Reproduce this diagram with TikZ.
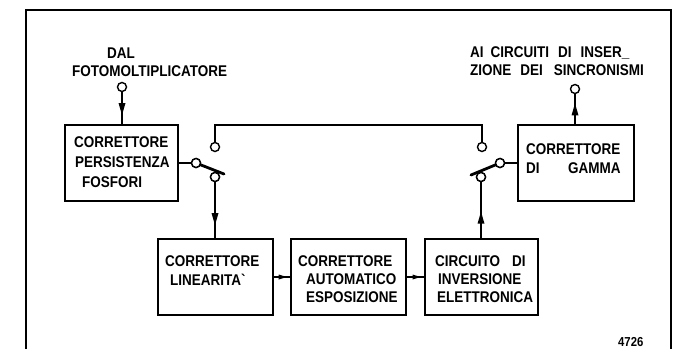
\documentclass[tikz,border=0pt]{standalone}
\usepackage{fontspec}
\setmainfont{Liberation Sans}[FakeStretch=0.87]
\usetikzlibrary{arrows.meta,decorations.markings}
\begin{document}
\begin{tikzpicture}[x=1pt,y=-1pt,
  box/.style={draw, line width=2.2pt, inner sep=0pt},
  lbl/.style={anchor=base west, inner sep=0pt, font=\fontsize{15.5}{15.5}\selectfont\bfseries},
  circ/.style={draw, circle, fill=white, line width=1.4pt, minimum size=9pt, inner sep=0pt},
  wire/.style={line width=1.4pt},
  arm/.style={line width=2.8pt},
  midarrow/.style={postaction={decorate}, decoration={markings, mark=at position #1 with {\fill (0pt,0pt) -- (-12pt,3.5pt) -- (-12pt,-3.5pt) -- cycle;}}},
  smallarrow/.style={postaction={decorate}, decoration={markings, mark=at position #1 with {\fill (0pt,0pt) -- (-8pt,2.5pt) -- (-8pt,-2.5pt) -- cycle;}}}
]
\useasboundingbox (0,0) rectangle (682,349);
% frame
\draw[line width=1.5pt] (26,349) -- (26,10) -- (671,10) -- (671,349);

% boxes
\node[box, minimum width=113pt, minimum height=76pt] (b1) at (121.5,163) {};
\node[box, minimum width=116pt, minimum height=76pt] (b5) at (576,163) {};
\node[box, minimum width=115pt, minimum height=76pt] (b2) at (215.5,277) {};
\node[box, minimum width=115pt, minimum height=76pt] (b3) at (348.5,277) {};
\node[box, minimum width=113pt, minimum height=76pt] (b4) at (481.5,277) {};

% texts
\node[lbl] (tdal) at (107,58) {DAL};
\node[lbl] (tfoto) at (72,76) {FOTOMOLTIPLICATORE};
\node[lbl] (tai) at (470,57) {AI\hspace{7pt}CIRCUITI\hspace{9pt}DI\hspace{9pt}INSER\_};
\node[lbl] (tzione) at (470,75) {ZIONE\hspace{9pt}DEI\hspace{11pt}SINCRONISMI};

\node[lbl] (b1a) at (74,147) {CORRETTORE};
\node[lbl] (b1b) at (75,167) {PERSISTENZA};
\node[lbl] (b1c) at (82,187) {FOSFORI};

\node[lbl] (b5a) at (526,154) {CORRETTORE};
\node[lbl] (b5b) at (526,173) {DI};
\node[lbl] (b5c) at (568,173) {GAMMA};

\node[lbl] (b2a) at (165,266) {CORRETTORE};
\node[lbl] (b2b) at (170,285) {LINEARITA\textasciigrave};

\node[lbl] (b3a) at (298,266) {CORRETTORE};
\node[lbl] (b3b) at (306,284) {AUTOMATICO};
\node[lbl] (b3c) at (306,302) {ESPOSIZIONE};

\node[lbl] (b4a) at (435,266) {CIRCUITO\hspace{12pt}DI};
\node[lbl] (b4b) at (438,284) {INVERSIONE};
\node[lbl] (b4c) at (437,302) {ELETTRONICA};

\node[lbl, font=\fontsize{13}{13}\selectfont\bfseries] (num) at (618,346) {4726};

% terminals
\node[circ] (in1) at (122,87) {};
\node[circ] (out) at (575,89) {};
\node[circ] (sc1) at (196,163) {};
\node[circ] (su1) at (215,147) {};
\node[circ] (sl1) at (215,177) {};
\node[circ] (sc2) at (500,163) {};
\node[circ] (su2) at (482,147) {};
\node[circ] (sl2) at (481,177) {};
\coordinate (topL) at (215,125);
\coordinate (topR) at (482,125);
\coordinate (arm1) at (224,174);
\coordinate (arm2) at (471,175);

% connectors
\draw[wire, midarrow=0.72] (in1) -- (b1.north -| in1);
\draw[wire, midarrow=0.69] (b5.north -| out) -- (out);
\draw[wire] (b1.east) -- (sc1);
\draw[wire] (sc2) -- (b5.west);
\draw[wire] (su1) -- (topL) -- (topR) -- (su2);
\draw[wire, midarrow=0.77] (sl1) -- (b2.north -| sl1);
\draw[wire, midarrow=0.47] (b4.north -| sl2) -- (sl2);
\draw[wire, smallarrow=0.8] (b2.east) -- (b3.west);
\draw[wire, smallarrow=0.8] (b3.east) -- (b4.west);

% switch arms
\draw[arm, line cap=round] (sc1) -- (arm1);
\draw[arm, line cap=round] (sc2) -- (arm2);
\node[circ] at (sc1) {};
\node[circ] at (sc2) {};
\node[circ] at (sl1) {};
\node[circ] at (sl2) {};
\end{tikzpicture}
\end{document}
